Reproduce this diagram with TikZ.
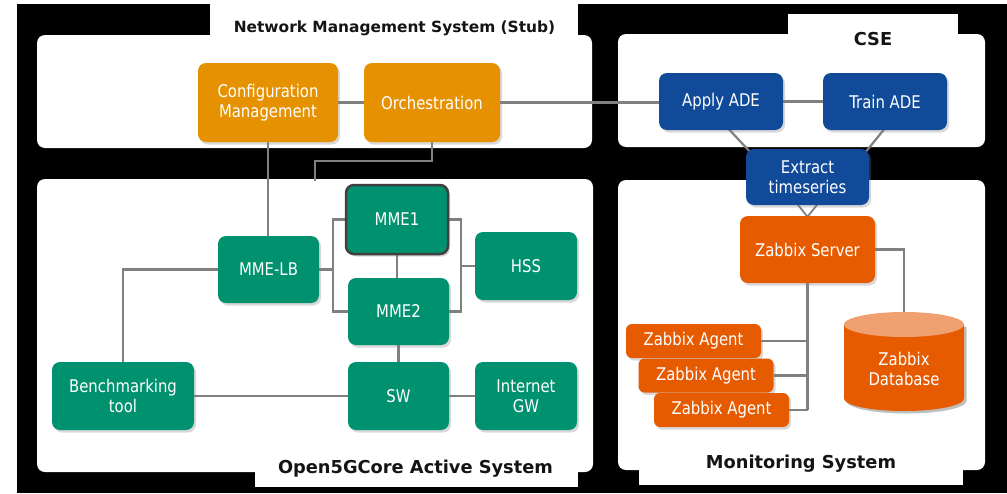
\documentclass[tikz,border=0pt]{standalone}
\usepackage{fontspec}
\setmainfont{DejaVu Sans}
\newfontfamily\nodefont{DejaVu Sans}[FakeStretch=0.85]
\usetikzlibrary{shadows,calc}
\definecolor{nmsorange}{RGB}{229,145,0}
\definecolor{cseblue}{RGB}{16,74,153}
\definecolor{coregreen}{RGB}{0,145,110}
\definecolor{zabbixorange}{RGB}{230,90,0}
\definecolor{dbtopcol}{RGB}{240,160,110}
\definecolor{linegray}{RGB}{128,128,128}
\definecolor{titleblack}{RGB}{20,20,20}
\pgfdeclarelayer{panels}
\pgfdeclarelayer{lines}
\pgfsetlayers{panels,lines,main}
\begin{document}
\begin{tikzpicture}[x=1pt,y=-1pt,
  box/.style={rectangle, rounded corners=8pt, text=white, align=center, inner sep=0pt,
    font=\nodefont\fontsize{17.5}{20}\selectfont,
    drop shadow={opacity=0.3, shadow xshift=2pt, shadow yshift=-2.5pt}},
  nmsbox/.style={box, fill=nmsorange},
  csebox/.style={box, fill=cseblue},
  corebox/.style={box, fill=coregreen},
  zbox/.style={box, fill=zabbixorange},
  agentbox/.style={zbox, rounded corners=6pt, minimum width=135pt, minimum height=34pt},
  conn/.style={draw=linegray, line width=2.2pt},
  paneltitle/.style={text=titleblack, inner sep=0pt, anchor=base},
  panelfill/.style={fill=white, rounded corners=8pt}
]
\useasboundingbox (0,0) rectangle (1007,493);

% ---------- nodes ----------
\node[nmsbox, minimum width=140pt, minimum height=79pt] (cfg) at (268,102.5) {Configuration\\Management};
\node[nmsbox, minimum width=136pt, minimum height=79pt] (orch) at (432,102.5) {Orchestration};

\node[csebox, minimum width=124pt, minimum height=57pt] (apply) at (721,101.5) {Apply ADE};
\node[csebox, minimum width=124pt, minimum height=57pt] (train) at (885,101.5) {Train ADE};
\node[csebox, minimum width=123pt, minimum height=56pt] (extract) at (807.5,177) {Extract\\timeseries};

\node[zbox, minimum width=135pt, minimum height=67pt] (zserver) at (807.5,249.5) {Zabbix Server};
\node[agentbox] (agent1) at (693.5,341) {Zabbix Agent};
\node[agentbox] (agent2) at (706,375.5) {Zabbix Agent};
\node[agentbox] (agent3) at (721.5,410) {Zabbix Agent};

\node[corebox, minimum width=102pt, minimum height=69pt, draw=black!75, line width=2.5pt] (mme1) at (397,219.5) {MME1};
\node[corebox, minimum width=101pt, minimum height=67pt] (mme2) at (398.5,311.5) {MME2};
\node[corebox, minimum width=101pt, minimum height=67pt] (mmelb) at (268.5,269.5) {MME-LB};
\node[corebox, minimum width=102pt, minimum height=68pt] (hss) at (526,266) {HSS};
\node[corebox, minimum width=142pt, minimum height=68pt] (bench) at (123,396) {Benchmarking\\tool};
\node[corebox, minimum width=101pt, minimum height=68pt] (sw) at (398.5,396) {SW};
\node[corebox, minimum width=102pt, minimum height=68pt] (igw) at (526,396) {Internet\\GW};

% database cylinder
\fill[black, opacity=0.25] (846.5,327) -- (846.5,401) arc[start angle=180, end angle=0, x radius=60, y radius=12.5] -- (966.5,327) -- cycle;
\fill[zabbixorange] (844,324.5) -- (844,398.5) arc[start angle=180, end angle=0, x radius=60, y radius=12.5] -- (964,324.5) -- cycle;
\fill[dbtopcol] (904,324.5) ellipse[x radius=60, y radius=12.5];
\coordinate (dbtop) at (904,312);
\node[text=white, align=center, inner sep=0pt, font=\nodefont\fontsize{17.5}{20}\selectfont] (db) at (904,369) {Zabbix\\Database};

% ---------- panel titles ----------
\node[paneltitle, font=\fontsize{15.4}{18}\selectfont\bfseries] (nmstitle) at (394.5,32) {Network Management System (Stub)};
\node[paneltitle, font=\fontsize{17.8}{20}\selectfont\bfseries] (csetitle) at (873,45) {CSE};
\node[paneltitle, font=\fontsize{17.8}{20}\selectfont\bfseries] (coretitle) at (415.5,473) {Open5GCore Active System};
\node[paneltitle, font=\fontsize{17.8}{20}\selectfont\bfseries] (montitle) at (801,468) {Monitoring System};

% ---------- connectors ----------
\begin{pgfonlayer}{lines}
\coordinate (orchend) at (315,181);
\coordinate (busL) at (333,219.5);
\coordinate (busR) at (461,219.5);
\draw[conn] (cfg.east) -- (orch.west);
\draw[conn] (orch.east) -- (orch.east -| apply.west);
\draw[conn] (apply.east) -- (train.west);
\draw[conn] (cfg.south) -- (cfg.south |- mmelb.north);
\draw[conn] (orch.south) -- ++(0,19) -| (orchend);
\draw[conn] ($(apply.south)+(7,-2)$) -- ($(extract.north west)+(6,5)$);
\draw[conn] ($(train.south)+(0,-2)$) -- ($(extract.north east)+(-5,5)$);
\draw[conn, line width=1.8pt] ($(extract.south)+(-10,-1)$) -- ($(zserver.north)+(0,1)$) -- ($(extract.south)+(10,-1)$);
\draw[conn] (zserver.east) -| (dbtop);
\draw[conn] (zserver.south) -- (agent3.east -| zserver.south);
\draw[conn] (agent1.east) -- (agent1.east -| zserver.south);
\draw[conn] (agent2.east) -- (agent2.east -| zserver.south);
\draw[conn] (agent3.east) -- (agent3.east -| zserver.south);
\draw[conn] (mme1.west) -- (busL) |- (mme2.west);
\draw[conn] (mmelb.east) -- (mmelb.east -| busL);
\draw[conn] (mme1.east) -- (busR) |- (mme2.east);
\draw[conn] (hss.west) -- (hss.west -| busR);
\draw[conn] (mme1.south) -- (mme1.south |- mme2.north);
\draw[conn] (mme2.south) -- (mme2.south |- sw.north);
\draw[conn] (bench.north) |- (mmelb.west);
\draw[conn] (bench.east) -- (sw.west);
\draw[conn] (sw.east) -- (igw.west);
\end{pgfonlayer}

% ---------- panels ----------
\begin{pgfonlayer}{panels}
\fill[white] (0,0) rectangle (1007,493);
\fill[black] (17,4) rectangle (1007,493);
\fill[panelfill] (37,35) rectangle (592,148);
\fill[white] (210,4) rectangle (578,40);
\fill[panelfill] (618,34) rectangle (985,147);
\fill[white] (788,14) rectangle (958,40);
\fill[panelfill] (37,179) rectangle (593,472);
\fill[white] (255,465) rectangle (578,487);
\fill[panelfill] (618,180) rectangle (985,470);
\fill[white] (639,464) rectangle (963,485);
\end{pgfonlayer}
\end{tikzpicture}
\end{document}
